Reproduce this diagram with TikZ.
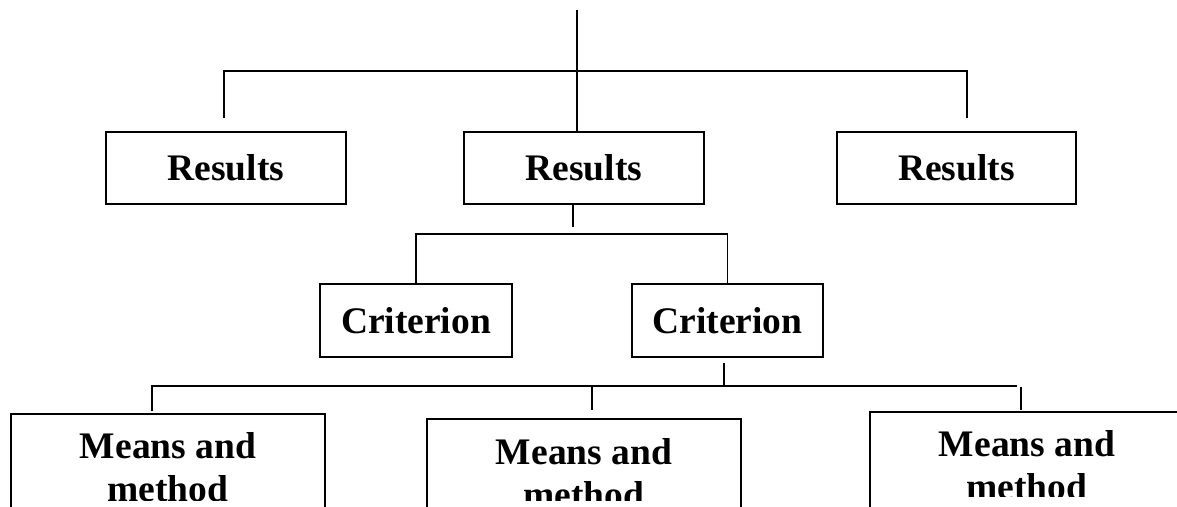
\documentclass[tikz,border=0pt]{standalone}
\usepackage{fontspec}
\setmainfont{Liberation Serif}
\begin{document}
\begin{tikzpicture}[x=1pt,y=-1pt,
  line width=1.8pt,
  box/.style={draw,line width=1.8pt,inner sep=0pt,
    font=\fontsize{37.5}{43}\selectfont\bfseries},
  label/.style={inner sep=0pt,align=center,
    font=\fontsize{37.5}{43}\selectfont\bfseries}]
\useasboundingbox (0,0) rectangle (1177,506);
\clip (0,0) rectangle (1177,506);

% first level
\node[box,minimum width=240,minimum height=72] (r1) at (226,168) {Results};
\node[box,minimum width=240,minimum height=72] (r2) at (584,168) {Results};
\node[box,minimum width=239,minimum height=72] (r3) at (956.5,168) {Results};

% second level
\node[box,minimum width=192,minimum height=73] (c1) at (416,320.5) {Criterion};
\node[box,minimum width=191,minimum height=73] (c2) at (727.5,320.5) {Criterion};

% third level (boxes run past the lower edge)
\node[box,minimum width=314,minimum height=160,anchor=north] (m1) at (168,413) {};
\node[box,minimum width=314,minimum height=160,anchor=north] (m2) at (584,418) {};
\node[box,minimum width=314,minimum height=95.5,anchor=north] (m3) at (1027,411) {};

% box texts, cut off at the lower border of their text areas
\begin{scope}
  \clip (0,0) rectangle (800,500);
  \node[label,anchor=north] (m1t) at (168,432) {Means and\\method};
  \node[label,anchor=north] (m2t) at (584,437.5) {Means and\\method};
\end{scope}
\begin{scope}
  \clip (800,0) rectangle (1177,496);
  \node[label,anchor=north] (m3t) at (1027,430) {Means and\\method};
\end{scope}

% connectors above the results
\coordinate (top) at (577,10);
\coordinate (bar1) at (577,71);
\coordinate (j1) at (224,118);
\coordinate (j3) at (967,118);
\draw (top) -- (top |- r2.north);
\draw (j1) |- (bar1) -| (j3);

% connectors between results and criteria
\coordinate (s2) at (573,227);
\coordinate (bar2) at (573,234);
\draw (s2 |- r2.south) -- (s2);
\draw (c1.north) |- (bar2) -| (c2.north);

% connectors between criteria and means
\coordinate (s3) at (724,363);
\coordinate (bar3) at (724,386);
\coordinate (bar3r) at (1017,386);
\coordinate (k1) at (152,411);
\coordinate (k2t) at (592,386);
\coordinate (k2) at (592,410);
\coordinate (k3t) at (1021,387);
\coordinate (k3) at (1021,410);
\draw (s3) -- (bar3);
\draw (k1) |- (bar3r);
\draw (k2t) -- (k2);
\draw (k3t) -- (k3);
\end{tikzpicture}
\end{document}
